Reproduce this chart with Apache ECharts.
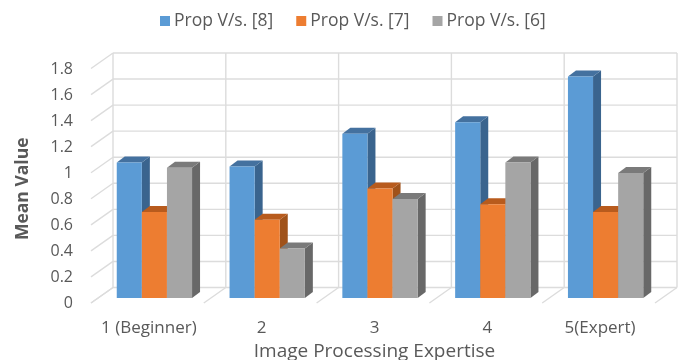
<!DOCTYPE html>
<html>
<head>
<meta charset="utf-8">
<script src="https://cdn.jsdelivr.net/npm/echarts@6/dist/echarts.min.js"></script>
<style>html,body{margin:0;padding:0;background:#fff}#c{width:686px;height:360px}</style>
</head>
<body>
<div id="c"></div>
<script>
const categories = ['1 (Beginner)', '2', '3', '4', '5(Expert)'];
const prop8 = [1.04, 1.01, 1.26, 1.35, 1.70];
const prop7 = [0.66, 0.60, 0.84, 0.72, 0.66];
const prop6 = [1.00, 0.38, 0.76, 1.04, 0.96];
const yTicks = [0, 0.2, 0.4, 0.6, 0.8, 1, 1.2, 1.4, 1.6, 1.8];
const boundaries = [0, 1, 2, 3, 4, 5];

const FONT = '"Open Sans", sans-serif';
const TEXT = '#595959';
const WALL = '#dcdcdc';
const BACK_DX = 15, BACK_DY = -10.5, FRONT_DX = -7, FRONT_DY = 5;
const BAR_DX = 8, BAR_DY = 6, BAR_W = 25.1;

function line(x1, y1, x2, y2) {
  return {type: 'line', shape: {x1, y1, x2, y2}, style: {stroke: WALL, lineWidth: 1.4}, silent: true};
}
function poly(points, fill) {
  return {type: 'polygon', shape: {points}, style: {fill}, silent: true};
}
function renderTicks(params, api) {
  const y = api.coord([0, api.value(1)])[1];
  const band = api.size([1, 0])[0];
  const left = api.coord([0, 0])[0] - band / 2;
  const right = left + band * categories.length;
  return {type: 'group', children: [
    line(left + FRONT_DX, y + FRONT_DY, left + BACK_DX, y + BACK_DY),
    line(left + BACK_DX, y + BACK_DY, right + BACK_DX, y + BACK_DY)
  ]};
}
function renderBoundaries(params, api) {
  const band = api.size([1, 0])[0];
  const x = api.coord([0, 0])[0] - band / 2 + band * api.value(1);
  const y0 = api.coord([0, 0])[1];
  const yTop = api.coord([0, yTicks[yTicks.length - 1]])[1];
  return {type: 'group', children: [
    line(x + BACK_DX, y0 + BACK_DY, x + BACK_DX, yTop + BACK_DY),
    line(x + FRONT_DX, y0 + FRONT_DY, x + BACK_DX, y0 + BACK_DY)
  ]};
}
function makeBar(slot, front, top, side) {
  return function (params, api) {
    const p = api.coord([api.value(0), api.value(1)]);
    const base = api.coord([api.value(0), 0])[1];
    const x0 = p[0] + (slot - 1.5) * BAR_W;
    const x1 = x0 + BAR_W;
    return {type: 'group', children: [
      poly([[x1, p[1]], [x1 + BAR_DX, p[1] - BAR_DY], [x1 + BAR_DX, base - BAR_DY], [x1, base]], side),
      poly([[x0, p[1]], [x0 + BAR_DX, p[1] - BAR_DY], [x1 + BAR_DX, p[1] - BAR_DY], [x1, p[1]]], top),
      poly([[x0, p[1]], [x1, p[1]], [x1, base], [x0, base]], front)
    ]};
  };
}
const rows = arr => arr.map((v, i) => [i, v]);

const chart = echarts.init(document.getElementById('c'), null, {renderer: 'canvas'});
chart.setOption({
  animation: false,
  backgroundColor: '#fff',
  textStyle: {fontFamily: FONT},
  legend: {
    left: 155, top: 7, itemWidth: 10, itemHeight: 10, itemGap: 23, icon: 'rect',
    data: ['Prop V/s. [8]', 'Prop V/s. [7]', 'Prop V/s. [6]'],
    textStyle: {color: TEXT, fontSize: 17.5, fontFamily: FONT, padding: [0, 0, 0, -1]}
  },
  grid: {left: 98, width: 564, top: 63.5, height: 234.5, outerBoundsMode: 'none'},
  xAxis: {
    type: 'category', data: categories,
    axisLine: {show: false}, axisTick: {show: false}, splitLine: {show: false},
    axisLabel: {color: TEXT, fontSize: 17, fontFamily: FONT, margin: 22, padding: [0, 11, 0, 0], interval: 0},
    name: 'Image Processing Expertise', nameLocation: 'middle', nameGap: 44,
    nameTextStyle: {color: TEXT, fontSize: 19, fontFamily: FONT, padding: [0, 11, 0, 0]}
  },
  yAxis: {
    type: 'value', min: 0, max: 1.8, interval: 0.2,
    axisLine: {show: false}, axisTick: {show: false}, splitLine: {show: false},
    axisLabel: {color: TEXT, fontSize: 16, fontFamily: FONT, margin: 25, verticalAlign: 'top', lineHeight: 11},
    name: 'Mean Value', nameLocation: 'middle', nameGap: 66,
    nameTextStyle: {color: TEXT, fontSize: 17.5, fontWeight: 'bold', fontFamily: FONT, padding: [0, 16, 0, 0]}
  },
  series: [
    {type: 'custom', name: 'ticks', silent: true, z: 1, data: yTicks.map(t => [0, t]), renderItem: renderTicks, encode: {x: 0, y: 1}},
    {type: 'custom', name: 'boundaries', silent: true, z: 1, data: boundaries.map(b => [0, b]), renderItem: renderBoundaries, encode: {x: 0}},
    {type: 'custom', name: 'Prop V/s. [8]', z: 2, itemStyle: {color: '#5B9BD5'}, data: rows(prop8), encode: {x: 0, y: 1},
      renderItem: makeBar(0, '#5B9BD5', '#44719F', '#3A648E')},
    {type: 'custom', name: 'Prop V/s. [7]', z: 3, itemStyle: {color: '#ED7D31'}, data: rows(prop7), encode: {x: 0, y: 1},
      renderItem: makeBar(1, '#ED7D31', '#B85B1D', '#A0521A')},
    {type: 'custom', name: 'Prop V/s. [6]', z: 4, itemStyle: {color: '#A5A5A5'}, data: rows(prop6), encode: {x: 0, y: 1},
      renderItem: makeBar(2, '#A5A5A5', '#7A7A7A', '#686868')}
  ]
});
</script>
</body>
</html>
